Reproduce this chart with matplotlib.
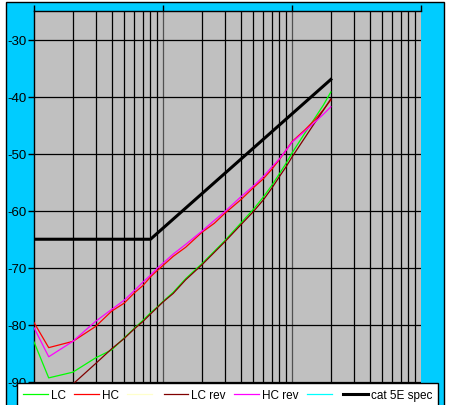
import matplotlib
matplotlib.use('Agg')
import matplotlib.pyplot as plt
from matplotlib.lines import Line2D
from matplotlib.patches import Rectangle
from matplotlib.ticker import LogLocator, NullFormatter, FixedLocator

plt.rcParams['font.family'] = ['Liberation Sans', 'DejaVu Sans']

# frequency points (MHz) and measured levels (dB)
freq = [1, 1.3, 2, 3, 4, 5, 6, 7, 8, 9, 10, 12, 15, 20, 25, 30, 40, 50,
        60, 70, 80, 90, 100, 125, 150, 175, 200]
lc = [-83.0, -89.3, -88.3, -85.8, -84.4, -82.3, -80.6, -79.2, -77.9, -76.9,
      -75.9, -74.3, -71.9, -69.3, -67.1, -65.3, -62.2, -59.8, -57.6, -55.5,
      -53.5, -51.7, -49.9, -46.5, -43.8, -41.5, -39.2]
hc = [-79.6, -84.0, -82.9, -80.3, -77.6, -76.2, -74.4, -73.1, -71.6, -70.5,
      -69.6, -68.0, -66.4, -63.8, -62.2, -60.5, -58.1, -56.0, -54.4, -52.7,
      -51.0, -49.4, -47.9, -45.9, -44.1, -42.3, -40.6]
lc_rev = [-98.4, -96.0, -90.4, -86.8, -84.2, -82.4, -80.7, -79.4, -78.1,
          -77.0, -76.0, -74.5, -72.1, -69.5, -67.3, -65.5, -62.5, -60.2,
          -58.1, -56.0, -54.0, -52.3, -50.6, -47.3, -44.6, -42.4, -40.4]
hc_rev = [-80.5, -85.6, -82.9, -79.4, -77.3, -75.7, -74.0, -72.5, -71.3,
          -70.1, -69.2, -67.6, -65.9, -63.6, -61.7, -60.2, -57.6, -55.7,
          -54.0, -52.3, -50.9, -49.4, -48.0, -46.1, -44.5, -43.1, -41.8]

# cat 5E limit line
spec_freq = [1, 8, 200]
spec_db = [-65, -65, -37]

y_ticks = [-90, -80, -70, -60, -50, -40, -30]


def plot_chart():
    fig = plt.figure(figsize=(4.5, 4.06), dpi=100)
    W, H = 450.0, 406.0

    # blue chart area behind the plot
    bg = Rectangle((6 / W, -0.01), 438 / W, 1.01 - 3 / H,
                   transform=fig.transFigure, facecolor='#00CCFF',
                   edgecolor='black', lw=1, zorder=-5)
    fig.add_artist(bg)

    ax = fig.add_axes([34 / W, 6 / H, 387 / W, 388 / H])
    ax.set_zorder(1)
    ax.set_facecolor('#C0C0C0')
    ax.set_xscale('log')
    ax.set_xlim(1, 1000)
    ax.set_ylim(-93, -25)

    # grid
    for d in [1, 10, 100]:
        for m in range(2, 10):
            ax.axvline(d * m, color='black', lw=0.9, zorder=1)
    for d in [10, 100]:
        ax.axvline(d, color='#505050', lw=0.9, zorder=1)
    for v in y_ticks:
        ax.axhline(v, color='black', lw=0.9, zorder=1)

    ax.plot(freq, lc, color='#00FF00', lw=0.9, zorder=3)
    ax.plot(freq, hc, color='#FF0000', lw=0.9, zorder=3)
    ax.plot(freq, lc_rev, color='#800000', lw=0.9, zorder=3)
    ax.plot(freq, hc_rev, color='#FF00FF', lw=0.9, zorder=3)
    ax.plot(spec_freq, spec_db, color='black', lw=2.2, zorder=4)

    # axes
    ax.spines['right'].set_visible(False)
    ax.spines['bottom'].set_visible(False)
    ax.spines['left'].set_linewidth(1)
    ax.spines['top'].set_linewidth(1)
    ax.yaxis.set_major_locator(FixedLocator(y_ticks))
    ax.set_yticklabels([str(v) for v in y_ticks])
    ax.tick_params(axis='y', direction='out', length=4, width=1,
                   labelsize=9.5, pad=1, colors='black')
    ax.xaxis.tick_top()
    ax.xaxis.set_major_locator(FixedLocator([1, 10, 100, 1000]))
    ax.xaxis.set_minor_locator(LogLocator(subs=[]))
    ax.xaxis.set_major_formatter(NullFormatter())
    ax.xaxis.set_minor_formatter(NullFormatter())
    ax.tick_params(axis='x', direction='out', length=4, width=1)

    handles = [
        Line2D([], [], color='#00FF00', lw=0.9),
        Line2D([], [], color='#FF0000', lw=0.9),
        Line2D([], [], color='#FFFFCC', lw=0.9),
        Line2D([], [], color='#800000', lw=0.9),
        Line2D([], [], color='#FF00FF', lw=0.9),
        Line2D([], [], color='#00FFFF', lw=0.9),
        Line2D([], [], color='black', lw=2.2),
    ]
    labels = ['LC', 'HC', '', 'LC rev', 'HC rev', '', 'cat 5E spec']
    leg = fig.legend(handles, labels, loc='upper left',
                     bbox_to_anchor=(17 / W, 1 - 384 / H),
                     bbox_transform=fig.transFigure, ncol=7,
                     fontsize=8.5, frameon=True, fancybox=False,
                     handlelength=2.1, handletextpad=0.25,
                     columnspacing=0.72, borderpad=0.5, borderaxespad=0)
    leg.get_frame().set_edgecolor('black')
    leg.get_frame().set_linewidth(1)
    leg.get_frame().set_alpha(1)
    leg.set_zorder(10)

    fig.savefig('out.png', dpi=100)


if __name__ == "__main__":
    plot_chart()
